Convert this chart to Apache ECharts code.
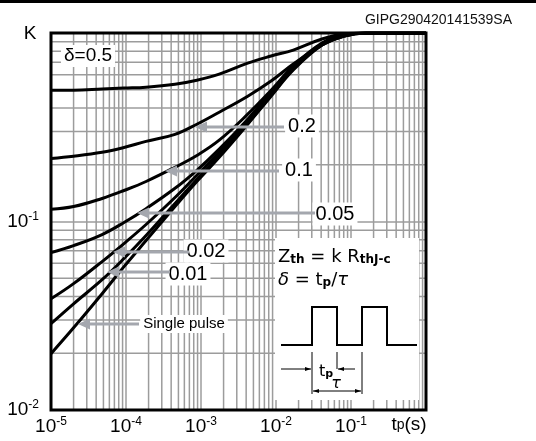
<!DOCTYPE html>
<html>
<head>
<meta charset="utf-8">
<script src="https://cdn.jsdelivr.net/npm/echarts@6/dist/echarts.min.js"></script>
<style>
html, body { margin: 0; padding: 0; background: #fff; }
#chart { width: 536px; height: 441px; }
</style>
</head>
<body>
<div id="chart"></div>
<script>
// pulse duration tp (s) where the curves were read
const tp = [1e-5, 2e-5, 4.8e-5, 9.4e-5, 1.85e-4, 4.5e-4, 8.8e-4, 1.75e-3, 4.2e-3, 8.6e-3, 1.7e-2, 4.1e-2, 8.1e-2, 1.6e-1, 1];

// normalized transient thermal impedance K for each duty cycle
const kDuty05 = [0.497, 0.497, 0.504, 0.510, 0.516, 0.535, 0.562, 0.605, 0.692, 0.755, 0.812, 0.929, 0.988, 1, 1];
const kDuty02 = [0.216, 0.222, 0.233, 0.247, 0.266, 0.290, 0.328, 0.380, 0.462, 0.556, 0.684, 0.863, 0.964, 1, 1];
const kDuty01 = [0.116, 0.120, 0.1325, 0.146, 0.163, 0.194, 0.224, 0.270, 0.371, 0.497, 0.668, 0.885, 0.976, 1, 1];
const kDuty005 = [0.0684, 0.0745, 0.0853, 0.0988, 0.117, 0.150, 0.187, 0.242, 0.349, 0.485, 0.659, 0.874, 0.976, 1, 1];
const kDuty002 = [0.0389, 0.0468, 0.0613, 0.0764, 0.0964, 0.134, 0.176, 0.233, 0.340, 0.479, 0.651, 0.874, 0.976, 1, 1];
const kDuty001 = [0.0287, 0.0366, 0.0491, 0.0636, 0.0842, 0.1247, 0.167, 0.224, 0.332, 0.468, 0.643, 0.863, 0.964, 1, 1];
const kSingle = [0.0199, 0.0273, 0.0414, 0.0576, 0.0792, 0.120, 0.163, 0.219, 0.328, 0.462, 0.636, 0.863, 0.964, 1, 1];

const seriesNames = ['δ=0.5', '0.2', '0.1', '0.05', '0.02', '0.01', 'Single pulse'];
const seriesValues = [kDuty05, kDuty02, kDuty01, kDuty005, kDuty002, kDuty001, kSingle];

// decades that get the 2..9 minor grid
const xDecades = [-5, -4, -3, -2, -1];
const yDecades = [-2, -1];

const X_MIN = 1e-5, X_MAX = 1, Y_MIN = 0.01, Y_MAX = 1;

const FONT = 'Liberation Sans, Arial, sans-serif';
const GRID_COLOR = '#9c9c9c';
const ARROW_COLOR = '#a4a7ae';

const chart = echarts.init(document.getElementById('chart'));

function powLabel(v) {
  const e = Math.round(Math.log10(v));
  if (e === 0) return '';
  return '{b|10}{s|' + e + '}';
}

const powRich = {
  b: { fontSize: 19, fontFamily: FONT, color: '#000', lineHeight: 22 },
  s: { fontSize: 12, fontFamily: FONT, color: '#000', verticalAlign: 'top', lineHeight: 12 }
};

const minorX = [];
xDecades.forEach(d => { for (let k = 2; k <= 9; k++) minorX.push(k * Math.pow(10, d)); });
const minorY = [];
yDecades.forEach(d => { for (let k = 2; k <= 9; k++) minorY.push(k * Math.pow(10, d)); });

function gridLineSeries(values, vertical) {
  return {
    type: 'custom',
    z: 1,
    silent: true,
    clip: true,
    data: values.map(v => vertical ? [v, 0.1] : [1e-3, v]),
    renderItem: function (params, api) {
      const a = vertical ? api.coord([api.value(0), Y_MIN]) : api.coord([X_MIN, api.value(1)]);
      const b = vertical ? api.coord([api.value(0), Y_MAX]) : api.coord([X_MAX, api.value(1)]);
      return { type: 'line', shape: { x1: a[0], y1: a[1], x2: b[0], y2: b[1] },
        style: { stroke: GRID_COLOR, lineWidth: 1.5 } };
    }
  };
}

function arrow(tipX, endX, y) {
  return [
    { type: 'line', z: 50, shape: { x1: tipX + 8, y1: y, x2: endX, y2: y },
      style: { stroke: ARROW_COLOR, lineWidth: 3 } },
    { type: 'polygon', z: 50, shape: { points: [[tipX, y], [tipX + 12, y - 5.5], [tipX + 12, y + 5.5]] },
      style: { fill: ARROW_COLOR } }
  ];
}

function boxLabel(text, x, y, size) {
  return { type: 'text', z: 50, x: x, y: y,
    style: { text: text, fontSize: size, fontFamily: FONT, fill: '#000', align: 'center',
      verticalAlign: 'middle', backgroundColor: '#fff', padding: [2, 3, 1, 3] } };
}

function dimArrow(x1, x2, y) {
  // thin line with a small head at x2
  const dir = x2 > x1 ? 1 : -1;
  return [
    { type: 'line', z: 60, shape: { x1: x1, y1: y, x2: x2, y2: y }, style: { stroke: '#000', lineWidth: 1 } },
    { type: 'polygon', z: 60, shape: { points: [[x2, y], [x2 - dir * 6, y - 2], [x2 - dir * 6, y + 2]] },
      style: { fill: '#000' } }
  ];
}

const series = seriesValues.map((vals, i) => ({
  name: seriesNames[i],
  type: 'line',
  z: 5,
  data: tp.map((t, j) => [t, vals[j]]),
  smooth: 0.4,
  showSymbol: false,
  lineStyle: { color: '#000', width: 3 }
}));

series.unshift(gridLineSeries(minorX, true), gridLineSeries(minorY, false));

const subRich = {
  m: { fontSize: 18, fontFamily: 'DejaVu Sans', fill: '#000' },
  i: { fontSize: 18, fontFamily: 'DejaVu Sans', fontStyle: 'italic', fill: '#000' },
  s: { fontSize: 12, fontFamily: 'DejaVu Sans', fontWeight: 'bold', fill: '#000', verticalAlign: 'bottom', lineHeight: 14 }
};

const graphic = [
  { type: 'rect', z: 40, shape: { x: 0, y: 0, width: 536, height: 3 }, style: { fill: '#000' } },
  { type: 'text', z: 40, x: 512, y: 20,
    style: { text: 'GIPG290420141539SA', fontSize: 14, fontFamily: FONT, fill: '#111', align: 'right', verticalAlign: 'middle' } },
  { type: 'text', z: 40, x: 30, y: 34,
    style: { text: 'K', fontSize: 19, fontFamily: FONT, fill: '#000', align: 'center', verticalAlign: 'middle' } },
  { type: 'text', z: 40, x: 409, y: 425,
    style: { text: '{b|t}{p|p}{b|(s)}', align: 'center', verticalAlign: 'middle',
      rich: { b: { fontSize: 19, fontFamily: FONT, fill: '#000' }, p: { fontSize: 14, fontFamily: FONT, fill: '#000' } } } },
  boxLabel('δ=0.5', 88, 56, 19),
  boxLabel('0.2', 302, 126, 20),
  boxLabel('0.1', 299, 170, 20),
  boxLabel('0.05', 335, 214, 20),
  boxLabel('0.02', 206, 251, 20),
  boxLabel('0.01', 188, 274, 20),
  boxLabel('Single pulse', 184, 324, 15),
  ...arrow(195, 284, 127),
  ...arrow(165, 279, 171),
  ...arrow(137, 315, 213),
  ...arrow(113, 189, 252),
  ...arrow(107, 170, 272),
  ...arrow(78, 139, 324),
  // inset: definition and pulse train
  { type: 'rect', z: 45, shape: { x: 275, y: 238, width: 144, height: 162 }, style: { fill: '#fff' } },
  { type: 'text', z: 60, x: 278, y: 257,
    style: { text: '{m|Z}{s|th}{m| = k R}{s|thJ-c}', align: 'left', verticalAlign: 'middle', rich: subRich } },
  { type: 'text', z: 60, x: 278, y: 280,
    style: { text: '{i|δ}{m| = t}{s|p}{m|/}{i|τ}', align: 'left', verticalAlign: 'middle', rich: subRich } },
  { type: 'polyline', z: 60,
    shape: { points: [[281, 345], [312, 345], [312, 307], [337, 307], [337, 345], [362, 345], [362, 307], [387, 307], [387, 345], [417, 345]] },
    style: { stroke: '#000', lineWidth: 2, fill: null } },
  { type: 'line', z: 60, shape: { x1: 312, y1: 352, x2: 312, y2: 394 }, style: { stroke: '#000', lineWidth: 1 } },
  { type: 'line', z: 60, shape: { x1: 362, y1: 352, x2: 362, y2: 394 }, style: { stroke: '#000', lineWidth: 1 } },
  { type: 'line', z: 60, shape: { x1: 337, y1: 352, x2: 337, y2: 369 }, style: { stroke: '#000', lineWidth: 1 } },
  ...dimArrow(281, 311, 369),
  ...dimArrow(355, 338, 369),
  ...dimArrow(337, 313, 391),
  ...dimArrow(337, 361, 391),
  { type: 'text', z: 60, x: 326, y: 372,
    style: { text: '{m|t}{s|p}', align: 'center', verticalAlign: 'middle',
      rich: { m: { fontSize: 16, fontFamily: 'DejaVu Sans', fill: '#000' },
              s: { fontSize: 11, fontFamily: 'DejaVu Sans', fontWeight: 'bold', fill: '#000', verticalAlign: 'bottom', lineHeight: 14 } } } },
  { type: 'text', z: 60, x: 336, y: 384,
    style: { text: 'τ', fontSize: 16, fontFamily: 'DejaVu Sans', fontStyle: 'italic', fill: '#000', align: 'center', verticalAlign: 'middle' } },
  // plot frame on top of the grid
  { type: 'rect', z: 70, shape: { x: 51, y: 33, width: 375, height: 377 },
    style: { fill: null, stroke: '#000', lineWidth: 3 } }
];

chart.setOption({
  animation: false,
  backgroundColor: '#fff',
  grid: { left: 51, top: 33, right: 110, bottom: 31 },
  xAxis: {
    type: 'log',
    logBase: 10,
    min: X_MIN,
    max: X_MAX,
    splitNumber: 5,
    axisLine: { show: false },
    axisTick: { show: false },
    axisLabel: { formatter: powLabel, rich: powRich, margin: 6, showMaxLabel: true, showMinLabel: true },
    splitLine: { show: true, lineStyle: { color: GRID_COLOR, width: 1.5 } }
  },
  yAxis: {
    type: 'log',
    logBase: 10,
    min: Y_MIN,
    max: Y_MAX,
    splitNumber: 2,
    axisLine: { show: false },
    axisTick: { show: false },
    axisLabel: { formatter: powLabel, rich: powRich, margin: 12 },
    splitLine: { show: true, lineStyle: { color: GRID_COLOR, width: 1.5 } }
  },
  series: series,
  graphic: graphic
});
</script>
</body>
</html>
